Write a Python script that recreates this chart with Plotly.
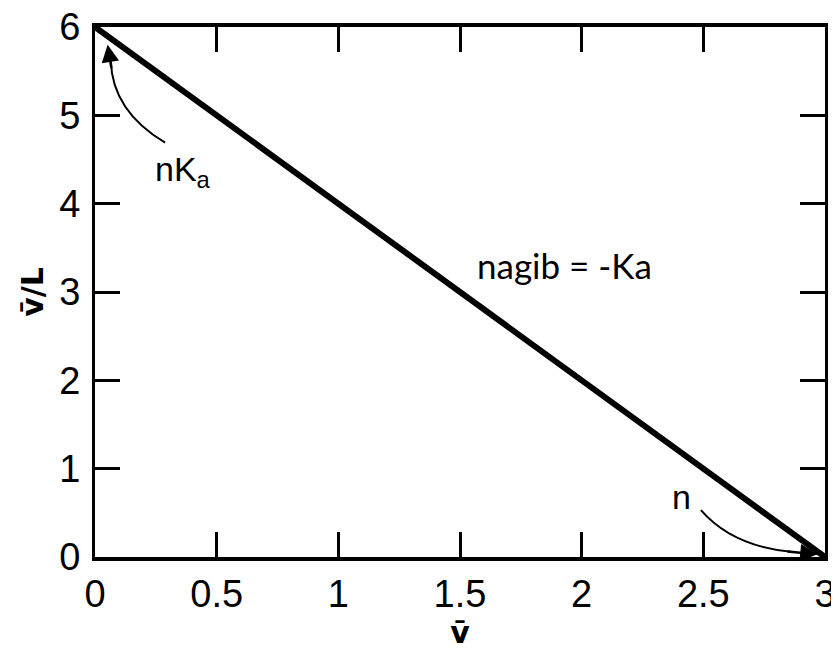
import plotly.graph_objects as go

# Scatchard plot: v/L against v
v_bar = [0, 3]
v_over_L = [6, 0]

x_ticks = [0, 0.5, 1, 1.5, 2, 2.5, 3]
x_labels = ["0", "0.5", "1", "1.5", "2", "2.5", "3"]
y_ticks = [0, 1, 2, 3, 4, 5, 6]

fig = go.Figure()
fig.add_trace(go.Scatter(x=v_bar, y=v_over_L, mode="lines",
                         line=dict(color="black", width=6),
                         showlegend=False, hoverinfo="skip"))

tick_font = dict(family="Liberation Sans, Arial", size=38, color="black")
note_font = dict(family="Liberation Sans, Arial", size=34, color="black")

# curved arrows (drawn as paths, heads as annotations)
fig.add_shape(type="path", xref="x", yref="y",
              path="M 0.288,4.69 Q 0.07,5.05 0.065,5.62",
              line=dict(color="black", width=2))
fig.add_shape(type="path", xref="x", yref="y",
              path="M 2.49,0.53 Q 2.62,0.12 2.86,0.06",
              line=dict(color="black", width=2))

fig.add_annotation(x=0.052, y=5.80, ax=0.068, ay=5.52, xref="x", yref="y",
                   axref="x", ayref="y", text="", showarrow=True,
                   arrowhead=2, arrowsize=1.4, arrowwidth=2.5, arrowcolor="black")
fig.add_annotation(x=2.97, y=0.03, ax=2.84, ay=0.065, xref="x", yref="y",
                   axref="x", ayref="y", text="", showarrow=True,
                   arrowhead=2, arrowsize=1.4, arrowwidth=2.5, arrowcolor="black")

fig.add_annotation(x=0.36, y=4.36, xref="x", yref="y", showarrow=False,
                   text="nK<sub>a</sub>", font=note_font)
fig.add_annotation(x=2.41, y=0.68, xref="x", yref="y", showarrow=False,
                   text="n", font=note_font)
fig.add_annotation(x=1.93, y=3.31, xref="x", yref="y", showarrow=False,
                   text="nagib = -Ka",
                   font=dict(family="Lato, Noto Sans", size=35, color="black"))

fig.update_xaxes(range=[0, 3], tickvals=x_ticks, ticktext=x_labels,
                 ticks="inside", ticklen=25, tickwidth=3, tickcolor="black",
                 showline=True, linewidth=4, linecolor="black", mirror="ticks",
                 showgrid=False, zeroline=False, tickfont=tick_font,
                 ticklabelstandoff=0, automargin=False, ticklabeloverflow="allow",
                 title=dict(text="<b>v\u0304</b>", standoff=4,
                            font=dict(family="DejaVu Sans", size=30, color="black")))
fig.update_yaxes(range=[0, 6], tickvals=y_ticks,
                 ticks="inside", ticklen=25, tickwidth=3, tickcolor="black",
                 showline=True, linewidth=3, linecolor="black", mirror="ticks",
                 showgrid=False, zeroline=False, tickfont=tick_font,
                 ticklabelstandoff=4, automargin=False, ticklabeloverflow="allow",
                 title=dict(text="<b>v\u0304/L</b>", standoff=7,
                            font=dict(family="DejaVu Sans", size=30, color="black")))

# page adds an 8px body margin, so offsets are trimmed by 8
fig.update_layout(width=839, height=650, plot_bgcolor="white", paper_bgcolor="white",
                  margin=dict(l=87, r=22, t=19, b=101))

fig.write_html("out.html")
